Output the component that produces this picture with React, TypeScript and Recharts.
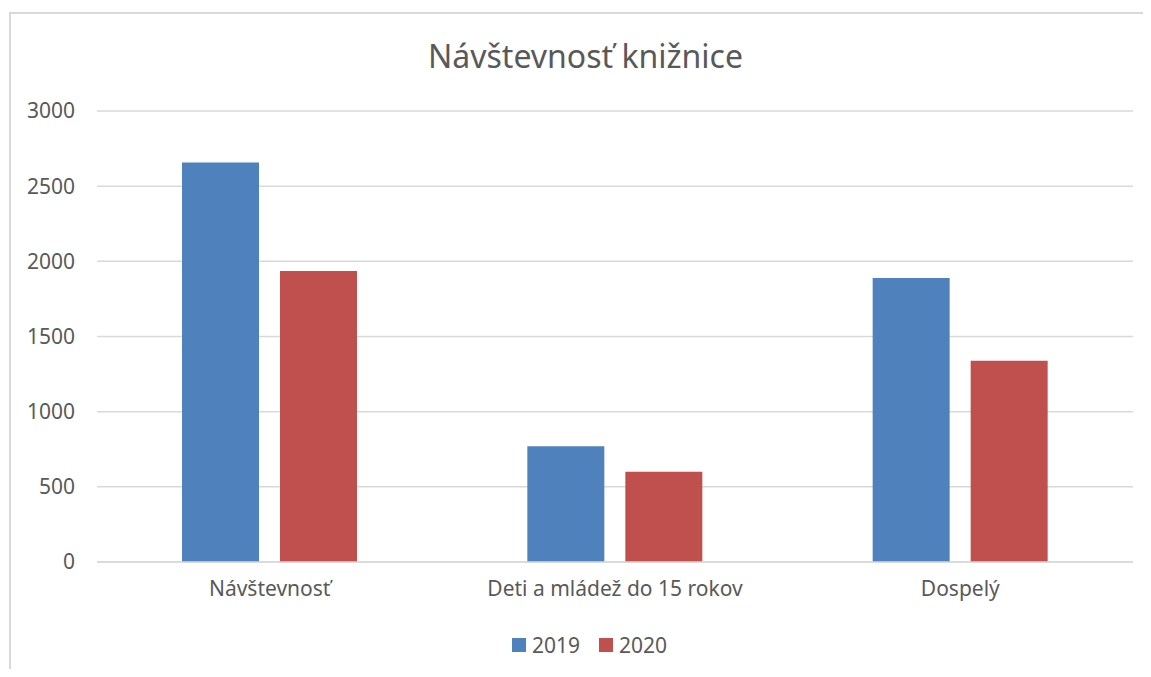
import { BarChart, Bar, XAxis, YAxis, CartesianGrid, Legend } from "recharts";

const categories = ["Návštevnosť", "Deti a mládež do 15 rokov", "Dospelý"];
const values2019 = [2658, 770, 1889];
const values2020 = [1936, 600, 1339];
const yTicks = [0, 500, 1000, 1500, 2000, 2500, 3000];

const seriesColors = { s2019: "#4f81bd", s2020: "#c0504d" };
const font = "'Noto Sans', 'Open Sans', sans-serif";
const textColor = "#595959";

const data = categories.map((name, i) => ({
  name,
  s2019: values2019[i],
  s2020: values2020[i],
}));

const renderLegend = () => (
  <div
    style={{
      display: "flex",
      justifyContent: "center",
      alignItems: "center",
      fontFamily: font,
      fontSize: 21,
      color: textColor,
    }}
  >
    {[
      { label: "2019", color: seriesColors.s2019 },
      { label: "2020", color: seriesColors.s2020 },
    ].map((item, i) => (
      <span
        key={item.label}
        style={{ display: "flex", alignItems: "center", marginLeft: i ? 19 : 0 }}
      >
        <span
          style={{
            width: 14,
            height: 14,
            background: item.color,
            display: "inline-block",
            marginRight: 6,
          }}
        />
        {item.label}
      </span>
    ))}
  </div>
);

export default function App() {
  return (
    <div
      style={{
        position: "relative",
        width: 1135,
        height: 661,
        background: "#fff",
      }}
    >
      <style>{"html, body { overflow: hidden; }"}</style>
      {/* chart frame: only left and top edges are inside the picture */}
      <div
        style={{
          position: "absolute",
          left: 1,
          top: 4,
          width: 1142,
          height: 665,
          borderLeft: "2px solid #d9d9d9",
          borderTop: "2px solid #d9d9d9",
          boxSizing: "border-box",
        }}
      />
      <div
        style={{
          position: "absolute",
          left: 0,
          width: 1135,
          paddingLeft: 20,
          boxSizing: "border-box",
          top: 26,
          textAlign: "center",
          fontFamily: font,
          fontSize: 32,
          color: textColor,
        }}
      >
        Návštevnosť knižnice
      </div>
      <div style={{ position: "absolute", left: 0, top: 0, width: 1143, height: 669, overflow: "hidden" }}>
        <BarChart
          width={1143}
          height={669}
          data={data}
          margin={{ top: 103, right: 18, bottom: 85, left: 0 }}
          barGap={21}
          barSize={77}
        >
          <CartesianGrid vertical={false} stroke="#d9d9d9" strokeWidth={1.5} />
          <XAxis
            dataKey="name"
            axisLine={{ stroke: "#d9d9d9", strokeWidth: 1.5 }}
            tickLine={false}
            tickSize={0}
            tickMargin={19}
            tick={{ fill: textColor, fontSize: 21, fontFamily: font }}
            height={30}
          />
          <YAxis
            width={89}
            domain={[0, 3000]}
            ticks={yTicks}
            axisLine={false}
            tickLine={false}
            tickSize={0}
            tickMargin={22}
            tick={{ fill: textColor, fontSize: 21, fontFamily: font }}
          />
          <Legend
            layout="horizontal"
            verticalAlign="middle"
            align="center"
            content={renderLegend}
            wrapperStyle={{ top: 623, left: 20, width: 1123 }}
          />
          <Bar dataKey="s2019" name="2019" fill={seriesColors.s2019} isAnimationActive={false} />
          <Bar dataKey="s2020" name="2020" fill={seriesColors.s2020} isAnimationActive={false} />
        </BarChart>
      </div>
    </div>
  );
}
